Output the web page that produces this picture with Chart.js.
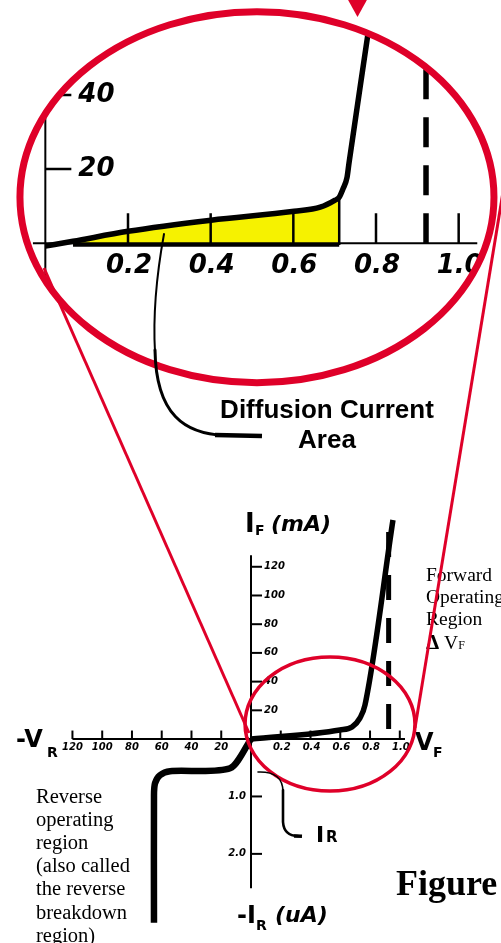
<!DOCTYPE html>
<html lang="en">
<head>
<meta charset="utf-8">
<title>Diode I–V characteristic</title>
<script src="https://cdn.jsdelivr.net/npm/chart.js@4.4.1/dist/chart.umd.min.js"></script>
<style>
  html, body { margin: 0; padding: 0; background: #fff; }
  #page { position: relative; width: 501px; height: 943px; overflow: hidden; background: #fff; }
  #page canvas { position: absolute; left: 0; top: 0; }
  #lensChart { z-index: 1; }
  #mainChart { z-index: 3; }
  .t { position: absolute; z-index: 2; white-space: nowrap; line-height: 1; color: #000; margin: 0; }
  .sans { font-family: "Liberation Sans", Arial, sans-serif; font-weight: bold; }
  .heavy { font-family: "DejaVu Sans", sans-serif; font-weight: bold; }
  .heavy-i { font-family: "DejaVu Sans", sans-serif; font-weight: bold; font-style: italic; }
  .serif { font-family: "Liberation Serif", "Times New Roman", serif; }
</style>
</head>
<body>
<div id="page">
  <canvas id="lensChart" width="501" height="943"></canvas>
  <canvas id="mainChart" width="501" height="943"></canvas>

  <div class="t sans" style="left:197px;top:394px;width:260px;text-align:center;font-size:26px;line-height:30px;">Diffusion Current<br>Area</div>

  <div class="t heavy" style="left:245px;top:510px;font-size:26px;">I</div>
  <div class="t heavy" style="left:255px;top:523px;font-size:14px;">F</div>
  <div class="t heavy-i" style="left:271px;top:513px;font-size:22px;">(mA)</div>

  <div class="t heavy" style="left:16px;top:727px;font-size:24px;">-V</div>
  <div class="t heavy" style="left:47px;top:745px;font-size:14px;">R</div>
  <div class="t heavy" style="left:415px;top:730px;font-size:24px;">V</div>
  <div class="t heavy" style="left:433px;top:745px;font-size:14px;">F</div>

  <div class="t heavy" style="left:237px;top:903px;font-size:24px;">-I</div>
  <div class="t heavy" style="left:256px;top:918px;font-size:14px;">R</div>
  <div class="t heavy-i" style="left:275px;top:904px;font-size:22px;">(uA)</div>

  <div class="t heavy" style="left:316px;top:824px;font-size:22px;">I</div>
  <div class="t heavy" style="left:326px;top:830px;font-size:15px;">R</div>

  <div class="t serif" style="left:36px;top:784.5px;font-size:20.5px;line-height:23.2px;">Reverse<br>operating<br>region<br>(also called<br>the reverse<br>breakdown<br>region)</div>

  <div class="t serif" style="left:426px;top:564px;font-size:19.5px;line-height:22.2px;">Forward<br>Operating<br>Region<br><span style="font-weight:bold;font-size:21px;">Δ</span> V<span style="font-size:12px;">F</span></div>

  <div class="t serif" style="left:396px;top:865px;font-size:36px;font-weight:bold;">Figure</div>
</div>

<script>
// ---------- overview characteristic ----------
// forward branch: volts / milliamps
const FWD_V  = [0, 0.598, 0.679, 0.732, 0.766, 0.954];
const FWD_MA = [0, 6.3, 8.4, 14.6, 23.7, 152.6];
// reverse branch: reverse volts / microamps
const REV_V  = [0, 14.1, 54.4, 61.2, 64.5, 65.2, 65.2];
const REV_UA = [0, 0.51, 0.56, 0.63, 0.77, 0.98, 3.2];
// ΔVF marker (dashed)
const VF_MARK = 0.925;
const VF_MARK_MA = [7, 145.6];
// axis ticks
const FWD_V_TICKS  = [0.2, 0.4, 0.6, 0.8, 1.0];
const REV_V_TICKS  = [20, 40, 60, 80, 100, 120];
const FWD_MA_TICKS = [20, 40, 60, 80, 100, 120];
const REV_UA_TICKS = [1.0, 2.0];
// axis extents
const X_SPAN_REV_V = 120, X_SPAN_FWD_V = 1.035;
const Y_SPAN_FWD_MA = 128, Y_SPAN_REV_UA = 2.6;

// ---------- magnified knee ----------
const ZOOM_V  = [0, 0.067, 0.2, 0.401, 0.602, 0.665, 0.701, 0.711, 0.720, 0.730, 0.735, 0.781, 0.790];
const ZOOM_MA = [-0.8, 0.5, 3.2, 6.2, 8.6, 9.7, 11.6, 12.4, 14.6, 17.8, 21.9, 56.8, 63.8];
const DIFF_FROM = 0.067, DIFF_TO = 0.711, DIFF_BASE = -0.5;   // diffusion-current area
const ZOOM_VF_MARK = 0.921;
const ZOOM_V_TICKS  = [0.2, 0.4, 0.6, 0.8, 1.0];
const ZOOM_MA_TICKS = [20, 40];
const ZOOM_AXIS_V  = [-0.03, 1.045];
const ZOOM_AXIS_MA = [-12, 64];

// highlighted region: magnifier lens (top) and ring on the overview
const LENS = { v: 0.512, ma: 12.4, rv: 0.5734, rma: 50.05 };
const RING = { v: 0.531, ma: 10.45, rv: 0.571, rma: 46.7 };

const RED = '#df0029';
const YELLOW = '#f6f200';

// piecewise overview axes: one step = 0.2 V / 20 V / 20 mA / 0.5 µA
const toX  = v  => v / 0.2;
const toXr = vr => -vr / 20;
const toY  = ma => ma / 20;
const toYr = ua => -ua * 2;

function seg(ctx, x1, y1, x2, y2) {
  ctx.beginPath(); ctx.moveTo(x1, y1); ctx.lineTo(x2, y2); ctx.stroke();
}
function ellipsePx(xs, ys, r, fx, fy) {
  const cx = xs.getPixelForValue(fx(r.v)), cy = ys.getPixelForValue(fy(r.ma));
  return {
    cx, cy,
    rx: Math.abs(xs.getPixelForValue(fx(r.v + r.rv)) - cx),
    ry: Math.abs(ys.getPixelForValue(fy(r.ma + r.rma)) - cy)
  };
}

// ---------- lens chart ----------
const lensDecor = {
  id: 'lensDecor',
  beforeDraw(chart) {
    const { ctx, scales: { x, y } } = chart;
    const e = ellipsePx(x, y, LENS, v => v, m => m);
    ctx.save();
    ctx.beginPath();
    ctx.ellipse(e.cx, e.cy, e.rx, e.ry, 0, 0, Math.PI * 2);
    ctx.clip();
  },
  afterDatasetsDraw(chart) {
    const { ctx, scales: { x, y } } = chart;
    const x0 = x.getPixelForValue(0), y0 = y.getPixelForValue(0);
    ctx.save();
    ctx.strokeStyle = '#000'; ctx.fillStyle = '#000'; ctx.lineCap = 'butt';
    ctx.lineWidth = 2;
    seg(ctx, x.getPixelForValue(ZOOM_AXIS_V[0]), y0, x.getPixelForValue(ZOOM_AXIS_V[1]), y0);
    seg(ctx, x0, y.getPixelForValue(ZOOM_AXIS_MA[0]), x0, y.getPixelForValue(ZOOM_AXIS_MA[1]));
    ctx.lineWidth = 2.5;
    ZOOM_V_TICKS.forEach(v => { const px = x.getPixelForValue(v); seg(ctx, px, y0, px, y0 - 30); });
    ZOOM_MA_TICKS.forEach(m => { const py = y.getPixelForValue(m); seg(ctx, x0, py, x0 + 26, py); });
    ctx.font = 'italic bold 26px "DejaVu Sans"';
    ctx.textAlign = 'center'; ctx.textBaseline = 'alphabetic';
    ZOOM_V_TICKS.forEach(v => ctx.fillText(v.toFixed(1), x.getPixelForValue(v) + 1, y0 + 29.5));
    ctx.textAlign = 'left'; ctx.textBaseline = 'middle';
    ZOOM_MA_TICKS.forEach(m => ctx.fillText(String(m), x0 + 33, y.getPixelForValue(m)));
    ctx.restore();
  },
  afterDraw(chart) {
    const { ctx, scales: { x, y } } = chart;
    ctx.restore();                       // end of lens clipping
    const e = ellipsePx(x, y, LENS, v => v, m => m);
    ctx.save();
    ctx.strokeStyle = RED; ctx.lineWidth = 7;
    ctx.beginPath(); ctx.ellipse(e.cx, e.cy, e.rx, e.ry, 0, 0, Math.PI * 2); ctx.stroke();
    // pointer on the lens rim
    ctx.fillStyle = RED;
    ctx.beginPath(); ctx.moveTo(347, -2); ctx.lineTo(368, -2); ctx.lineTo(357.5, 17); ctx.closePath(); ctx.fill();
    // leader from the shaded area to its caption
    ctx.strokeStyle = '#000'; ctx.lineCap = 'round';
    ctx.lineWidth = 2;
    ctx.beginPath(); ctx.moveTo(164, 234); ctx.quadraticCurveTo(152, 300, 155, 352); ctx.stroke();
    ctx.lineWidth = 3;
    ctx.beginPath(); ctx.moveTo(155, 350); ctx.bezierCurveTo(156, 415, 185, 434, 225, 435.5); ctx.stroke();
    ctx.lineWidth = 4.5; ctx.lineCap = 'butt';
    ctx.beginPath(); ctx.moveTo(215, 435); ctx.lineTo(262, 436); ctx.stroke();
    ctx.restore();
  }
};

const zoomCurve = ZOOM_V.map((v, i) => ({ x: v, y: ZOOM_MA[i] }));
const diffArea = zoomCurve.filter(p => p.x >= DIFF_FROM && p.x <= DIFF_TO);
const diffTop = diffArea[diffArea.length - 1].y;

const lensChart = new Chart(document.getElementById('lensChart'), {
  type: 'line',
  data: {
    datasets: [
      { data: zoomCurve, borderColor: '#000', borderWidth: 5.5, pointRadius: 0,
        cubicInterpolationMode: 'monotone', fill: false, order: 0, borderJoinStyle: 'round' },
      { data: diffArea, borderColor: 'rgba(0,0,0,0)', borderWidth: 0, backgroundColor: YELLOW,
        pointRadius: 0, cubicInterpolationMode: 'monotone', fill: { value: DIFF_BASE }, order: 4 },
      { data: [{ x: DIFF_FROM, y: DIFF_BASE }, { x: DIFF_TO, y: DIFF_BASE }],
        borderColor: '#000', borderWidth: 3.5, pointRadius: 0, fill: false, order: 2 },
      { data: [{ x: DIFF_TO, y: DIFF_BASE }, { x: DIFF_TO, y: diffTop }],
        borderColor: '#000', borderWidth: 2.5, pointRadius: 0, fill: false, order: 2 },
      { data: [{ x: ZOOM_VF_MARK, y: 0 }, { x: ZOOM_VF_MARK, y: ZOOM_AXIS_MA[1] }],
        borderColor: '#000', borderWidth: 5.5, borderDash: [30, 18], borderCapStyle: 'butt',
        pointRadius: 0, fill: false, order: 3 }
    ]
  },
  options: {
    responsive: false, animation: false, devicePixelRatio: 1, events: [],
    layout: { padding: { left: 4, right: 1, top: 6, bottom: 685 } },
    plugins: { legend: { display: false }, tooltip: { enabled: false } },
    scales: {
      x: { type: 'linear', min: -0.1, max: 1.1, display: false },
      y: { type: 'linear', min: -4, max: 64, display: false }
    }
  },
  plugins: [lensDecor]
});

// ---------- overview chart ----------
const mainDecor = {
  id: 'mainDecor',
  beforeDatasetsDraw(chart) {
    const { ctx, scales: { x, y } } = chart;
    const x0 = x.getPixelForValue(0), y0 = y.getPixelForValue(0);
    ctx.save();
    ctx.strokeStyle = '#000'; ctx.fillStyle = '#000'; ctx.lineCap = 'butt';
    ctx.lineWidth = 2;
    seg(ctx, x.getPixelForValue(toXr(X_SPAN_REV_V)), y0, x.getPixelForValue(toX(X_SPAN_FWD_V)), y0);
    seg(ctx, x0, y.getPixelForValue(toY(Y_SPAN_FWD_MA)), x0, y.getPixelForValue(toYr(Y_SPAN_REV_UA)));
    const xt = REV_V_TICKS.map(toXr).concat(FWD_V_TICKS.map(toX));
    xt.forEach(u => { const px = x.getPixelForValue(u); seg(ctx, px, y0, px, y0 - 8.5); });
    const yt = FWD_MA_TICKS.map(toY).concat(REV_UA_TICKS.map(toYr));
    yt.forEach(u => { const py = y.getPixelForValue(u); seg(ctx, x0, py, x0 + 11, py); });

    ctx.font = 'italic bold 10px "DejaVu Sans"';
    ctx.textAlign = 'center'; ctx.textBaseline = 'alphabetic';
    REV_V_TICKS.forEach(v => ctx.fillText(String(v), x.getPixelForValue(toXr(v)), y0 + 11));
    FWD_V_TICKS.forEach(v => ctx.fillText(v.toFixed(1), x.getPixelForValue(toX(v)) + 1, y0 + 11));
    ctx.textBaseline = 'middle';
    ctx.textAlign = 'left';
    FWD_MA_TICKS.forEach(m => ctx.fillText(String(m), x0 + 13, y.getPixelForValue(toY(m))));
    ctx.textAlign = 'right';
    REV_UA_TICKS.forEach(u => ctx.fillText(u.toFixed(1), x0 - 5, y.getPixelForValue(toYr(u))));
    ctx.restore();
  },
  afterDatasetsDraw(chart) {
    const { ctx, scales: { x, y } } = chart;
    const e = ellipsePx(x, y, RING, toX, toY);
    ctx.save();
    ctx.strokeStyle = RED;
    ctx.lineWidth = 3.5;
    ctx.beginPath(); ctx.ellipse(e.cx, e.cy, e.rx, e.ry, 0, 0, Math.PI * 2); ctx.stroke();
    // projection lines from the ring up to the lens
    ctx.lineWidth = 3;
    seg(ctx, 44, 268, 249, 733);
    seg(ctx, 505, 180, 415, 728);
    // leader for the reverse saturation current
    ctx.strokeStyle = '#000'; ctx.lineCap = 'round';
    ctx.lineWidth = 1.6;
    ctx.beginPath(); ctx.moveTo(258, 772); ctx.quadraticCurveTo(283, 771, 283, 792); ctx.stroke();
    ctx.lineWidth = 2.6;
    ctx.beginPath(); ctx.moveTo(283, 790); ctx.lineTo(283, 822); ctx.quadraticCurveTo(284, 836, 298, 836); ctx.stroke();
    ctx.lineWidth = 3.6; ctx.lineCap = 'butt';
    ctx.beginPath(); ctx.moveTo(294, 836); ctx.lineTo(302, 836.3); ctx.stroke();
    ctx.restore();
  }
};

const mainChart = new Chart(document.getElementById('mainChart'), {
  type: 'line',
  data: {
    datasets: [
      { data: FWD_V.map((v, i) => ({ x: toX(v), y: toY(FWD_MA[i]) })),
        borderColor: '#000', borderWidth: 5.5, pointRadius: 0, cubicInterpolationMode: 'monotone',
        fill: false, borderJoinStyle: 'round', order: 0 },
      { data: REV_V.map((v, i) => ({ x: toXr(v), y: toYr(REV_UA[i]) })),
        borderColor: '#000', borderWidth: 6.5, pointRadius: 0, tension: 0.25,
        fill: false, borderJoinStyle: 'round', order: 0 },
      { data: [{ x: toX(VF_MARK), y: toY(VF_MARK_MA[0]) }, { x: toX(VF_MARK), y: toY(VF_MARK_MA[1]) }],
        borderColor: '#000', borderWidth: 5, borderDash: [25, 18], borderCapStyle: 'butt',
        pointRadius: 0, fill: false, order: 1 }
    ]
  },
  options: {
    responsive: false, animation: false, devicePixelRatio: 1, events: [],
    layout: { padding: { left: 4, right: 3, top: 495, bottom: 3 } },
    plugins: { legend: { display: false }, tooltip: { enabled: false } },
    scales: {
      x: { type: 'linear', min: -8.3, max: 8.3, display: false },
      y: { type: 'linear', min: -7, max: 8.5, display: false }
    }
  },
  plugins: [mainDecor]
});
</script>
</body>
</html>
